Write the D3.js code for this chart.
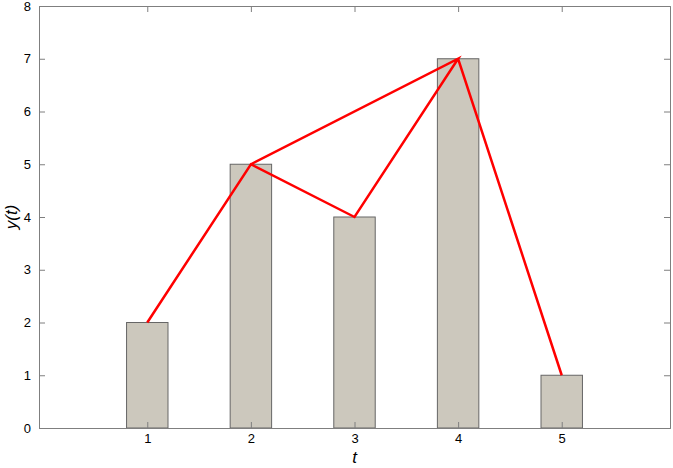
<!DOCTYPE html>
<html>
<head>
<meta charset="utf-8">
<script src="https://cdn.jsdelivr.net/npm/d3@7"></script>
<style>
  body { margin: 0; background: #fff; }
  text { font-family: "Liberation Sans", Arial, sans-serif; }
</style>
</head>
<body>
<div class="graph"></div>
<script>
// bar data
var barT = [1, 2, 3, 4, 5];
var barY = [2, 5, 4, 7, 1];
// red path (goes back over 4 -> 2 -> 4)
var lineT = [1, 2, 3, 4, 2, 4, 5];
var lineY = [2, 5, 4, 7, 5, 7, 1];
var xTicks = [1, 2, 3, 4, 5];
var yTicks = [0, 1, 2, 3, 4, 5, 6, 7, 8];

var W = 673, H = 468;
var margin = { top: 6, right: 3, bottom: 40, left: 39 };
var width = W - margin.left - margin.right;
var height = H - margin.top - margin.bottom;

var svg = d3.select(".graph").append("svg")
    .attr("width", W).attr("height", H);

var x = d3.scaleLinear().domain([-0.045, 6.045]).range([0, width]);
var y = d3.scaleLinear().domain([0, 8]).range([height, 0]);

var g = svg.append("g").attr("transform", "translate(" + margin.left + "," + margin.top + ")");

var axisColor = "#7f7f7f";
var barW = x(0.4) - x(0);

// bars
g.selectAll("rect.bar").data(barT).enter().append("rect")
  .attr("class", "bar")
  .attr("x", function (d) { return x(d) - barW / 2; })
  .attr("y", function (d, i) { return y(barY[i]); })
  .attr("width", barW)
  .attr("height", function (d, i) { return y(0) - y(barY[i]); })
  .attr("fill", "#ccc8bd")
  .attr("stroke", "#666")
  .attr("stroke-width", 1);

// axes (ticks inward, mirrored box)
var tk = 6;
var fmt = d3.format("d");
g.append("g").attr("transform", "translate(0," + height + ")")
  .call(d3.axisBottom(x).tickValues(xTicks).tickSize(-tk).tickPadding(6).tickFormat(fmt));
g.append("g")
  .call(d3.axisTop(x).tickValues(xTicks).tickSize(-tk).tickFormat(""));
g.append("g")
  .call(d3.axisLeft(y).tickValues(yTicks).tickSize(-tk).tickPadding(8).tickFormat(fmt));
g.append("g").attr("transform", "translate(" + width + ",0)")
  .call(d3.axisRight(y).tickValues(yTicks).tickSize(-tk).tickFormat(""));

g.selectAll(".domain").attr("stroke", axisColor).attr("stroke-width", 1);
g.selectAll(".tick line").attr("stroke", axisColor).attr("stroke-width", 1);
g.selectAll(".tick text").attr("fill", "#000").style("font-size", "13px")
  .style("font-family", "'Liberation Sans', Arial, sans-serif");

// red line
var line = d3.line()
  .x(function (d) { return x(d); })
  .y(function (d, i) { return y(lineY[i]); });
g.append("path").datum(lineT)
  .attr("d", line)
  .attr("fill", "none")
  .attr("stroke", "#ff0000")
  .attr("stroke-width", 2.5)
  .attr("stroke-linejoin", "miter");

// axis labels
svg.append("text")
  .attr("x", margin.left + x(3))
  .attr("y", H - 5)
  .attr("text-anchor", "middle")
  .style("font-size", "17px")
  .style("font-style", "italic")
  .text("t");
svg.append("text")
  .attr("transform", "translate(17," + (margin.top + height / 2) + ") rotate(-90)")
  .attr("text-anchor", "middle")
  .style("font-size", "17px")
  .style("font-style", "italic")
  .text("y(t)");
</script>
</body>
</html>
